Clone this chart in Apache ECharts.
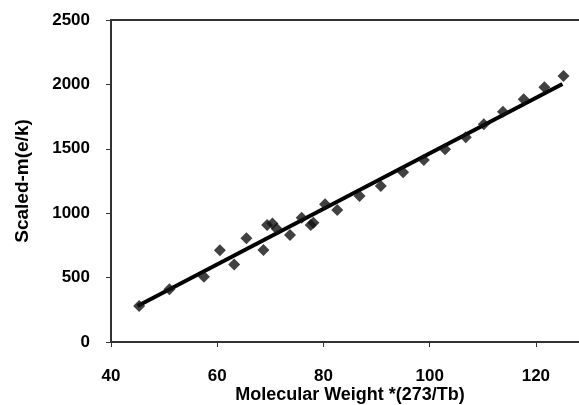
<!DOCTYPE html>
<html>
<head>
<meta charset="utf-8">
<script src="https://cdn.jsdelivr.net/npm/echarts@6/dist/echarts.min.js"></script>
<style>html,body{margin:0;padding:0;background:#fff;}#c{width:579px;height:405px;}</style>
</head>
<body>
<div id="c"></div>
<script>
const xTicks = [40, 60, 80, 100, 120];
const yTicks = [0, 500, 1000, 1500, 2000, 2500];
const molWeight = [45.3, 51.0, 57.5, 60.5, 63.2, 65.5, 68.7, 69.4, 70.4, 71.2, 73.7, 75.9, 77.6, 78.1, 80.3, 82.6, 86.8, 90.8, 95.0, 98.9, 102.9, 106.8, 110.2, 113.8, 117.7, 121.6, 125.2];
const scaledM   = [280, 409, 507, 712, 601, 805, 714, 908, 921, 880, 831, 965, 908, 926, 1069, 1025, 1134, 1211, 1317, 1413, 1496, 1589, 1690, 1788, 1884, 1978, 2065];
const fitX = [45, 125];
const fitY = [280, 2003];

const points = molWeight.map((x, i) => [x, scaledM[i]]);
const fit = fitX.map((x, i) => [x, fitY[i]]);

const chart = echarts.init(document.getElementById('c'), null, {renderer: 'canvas'});
const axisColor = '#333';
const font = 'Liberation Sans, Arial, sans-serif';
chart.setOption({
  animation: false,
  backgroundColor: '#fff',
  grid: {left: 111, top: 20, width: 478, height: 322, outerBoundsMode: 'none', containLabel: false,
         show: true, borderColor: axisColor, borderWidth: 2, backgroundColor: 'transparent'},
  xAxis: {
    type: 'value', min: 40, max: 130, interval: 20,
    name: 'Molecular Weight *(273/Tb)', nameLocation: 'middle', nameGap: 44, nameMoveOverlap: false,
    nameTextStyle: {fontFamily: font, fontWeight: 'bold', fontSize: 18, color: '#000'},
    axisLine: {show: true, lineStyle: {color: axisColor, width: 2}},
    axisTick: {show: true, inside: false, length: 5, lineStyle: {color: axisColor, width: 1}},
    axisLabel: {fontFamily: font, fontWeight: 'bold', fontSize: 17, color: '#000', margin: 26, showMaxLabel: false,
      formatter: v => xTicks.includes(v) ? String(v) : ''},
    splitLine: {show: false}
  },
  yAxis: {
    type: 'value', min: 0, max: 2500, interval: 500,
    name: 'Scaled-m(e/k)', nameLocation: 'middle', nameGap: 79, nameMoveOverlap: false,
    nameTextStyle: {fontFamily: font, fontWeight: 'bold', fontSize: 19, color: '#000'},
    axisLine: {show: true, lineStyle: {color: axisColor, width: 2}},
    axisTick: {show: true, inside: false, length: 5, lineStyle: {color: axisColor, width: 1}},
    axisLabel: {fontFamily: font, fontWeight: 'bold', fontSize: 17, color: '#000', margin: 21,
      formatter: v => yTicks.includes(v) ? String(v) : ''},
    splitLine: {show: false}
  },
  series: [
    {type: 'line', data: fit, showSymbol: false, symbol: 'none', lineStyle: {color: '#000', width: 4}, z: 2},
    {type: 'scatter', data: points, symbol: 'diamond', symbolSize: 12, itemStyle: {color: '#111'}, z: 3}
  ]
});
</script>
</body>
</html>
